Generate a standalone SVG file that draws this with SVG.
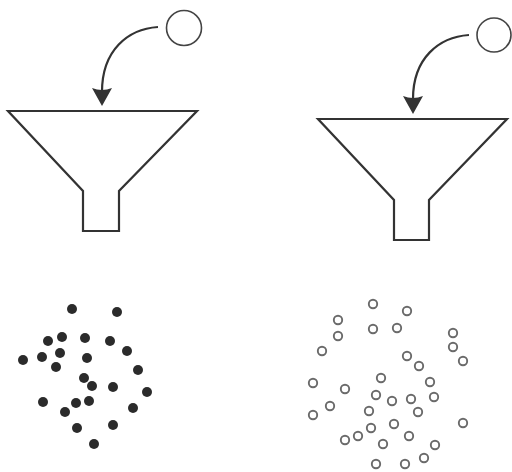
<svg xmlns="http://www.w3.org/2000/svg" width="512" height="472" viewBox="0 0 512 472">
<defs>
<style>
.funnel{fill:none;stroke:#333;stroke-width:2.2;stroke-linejoin:miter}
.ball{fill:#fff;stroke:#444;stroke-width:1.6}
.arc{fill:none;stroke:#333;stroke-width:2.2}
.head{fill:#333}
.dot{fill:#2b2b2b}
.ring{fill:none;stroke:#6a6a6a;stroke-width:1.9}
</style>
</defs>
<rect width="512" height="472" fill="#fff"/>
<g id="funnel-left">
<path class="funnel" d="M8,111 L197,111 L119,191 L119,231 L83,231 L83,191 Z"/>
</g>
<g id="ball-left"><circle class="ball" cx="184" cy="28" r="17.5"/></g>
<g id="funnel-right">
<path class="funnel" d="M318,119 L507,119 L429,200 L429,240 L394,240 L394,200 Z"/>
</g>
<g id="ball-right"><circle class="ball" cx="494" cy="35" r="17"/></g>
<g id="connectors">
<path class="arc" d="M158,27 C128,29 102,50 102,92"/>
<path class="head" d="M92,88 Q102,92 112,88 L102,106 Z"/>
<path class="arc" d="M469,35 C439,37 413,58 413,99"/>
<path class="head" d="M403,96 Q413,100 423,96 L413,114 Z"/>
</g>
<g id="solid-particles">
<circle class="dot" cx="72" cy="309" r="5"/>
<circle class="dot" cx="117" cy="312" r="5"/>
<circle class="dot" cx="48" cy="341" r="5"/>
<circle class="dot" cx="62" cy="337" r="5"/>
<circle class="dot" cx="85" cy="338" r="5"/>
<circle class="dot" cx="110" cy="341" r="5"/>
<circle class="dot" cx="127" cy="351" r="5"/>
<circle class="dot" cx="23" cy="360" r="5"/>
<circle class="dot" cx="42" cy="357" r="5"/>
<circle class="dot" cx="60" cy="353" r="5"/>
<circle class="dot" cx="87" cy="358" r="5"/>
<circle class="dot" cx="56" cy="367" r="5"/>
<circle class="dot" cx="138" cy="370" r="5"/>
<circle class="dot" cx="84" cy="378" r="5"/>
<circle class="dot" cx="92" cy="386" r="5"/>
<circle class="dot" cx="113" cy="387" r="5"/>
<circle class="dot" cx="147" cy="392" r="5"/>
<circle class="dot" cx="43" cy="402" r="5"/>
<circle class="dot" cx="76" cy="403" r="5"/>
<circle class="dot" cx="89" cy="401" r="5"/>
<circle class="dot" cx="65" cy="412" r="5"/>
<circle class="dot" cx="133" cy="408" r="5"/>
<circle class="dot" cx="77" cy="428" r="5"/>
<circle class="dot" cx="113" cy="425" r="5"/>
<circle class="dot" cx="94" cy="444" r="5"/>
</g>
<g id="hollow-particles">
<circle class="ring" cx="373" cy="304" r="4.2"/>
<circle class="ring" cx="407" cy="311" r="4.2"/>
<circle class="ring" cx="338" cy="320" r="4.2"/>
<circle class="ring" cx="338" cy="336" r="4.2"/>
<circle class="ring" cx="373" cy="329" r="4.2"/>
<circle class="ring" cx="397" cy="328" r="4.2"/>
<circle class="ring" cx="453" cy="333" r="4.2"/>
<circle class="ring" cx="453" cy="347" r="4.2"/>
<circle class="ring" cx="322" cy="351" r="4.2"/>
<circle class="ring" cx="407" cy="356" r="4.2"/>
<circle class="ring" cx="419" cy="366" r="4.2"/>
<circle class="ring" cx="463" cy="361" r="4.2"/>
<circle class="ring" cx="381" cy="378" r="4.2"/>
<circle class="ring" cx="313" cy="383" r="4.2"/>
<circle class="ring" cx="430" cy="382" r="4.2"/>
<circle class="ring" cx="345" cy="389" r="4.2"/>
<circle class="ring" cx="376" cy="395" r="4.2"/>
<circle class="ring" cx="392" cy="401" r="4.2"/>
<circle class="ring" cx="411" cy="399" r="4.2"/>
<circle class="ring" cx="434" cy="397" r="4.2"/>
<circle class="ring" cx="330" cy="406" r="4.2"/>
<circle class="ring" cx="313" cy="415" r="4.2"/>
<circle class="ring" cx="369" cy="411" r="4.2"/>
<circle class="ring" cx="418" cy="412" r="4.2"/>
<circle class="ring" cx="394" cy="424" r="4.2"/>
<circle class="ring" cx="463" cy="423" r="4.2"/>
<circle class="ring" cx="371" cy="428" r="4.2"/>
<circle class="ring" cx="345" cy="440" r="4.2"/>
<circle class="ring" cx="358" cy="436" r="4.2"/>
<circle class="ring" cx="409" cy="436" r="4.2"/>
<circle class="ring" cx="383" cy="444" r="4.2"/>
<circle class="ring" cx="435" cy="445" r="4.2"/>
<circle class="ring" cx="424" cy="458" r="4.2"/>
<circle class="ring" cx="376" cy="464" r="4.2"/>
<circle class="ring" cx="405" cy="464" r="4.2"/>
</g>
</svg>
